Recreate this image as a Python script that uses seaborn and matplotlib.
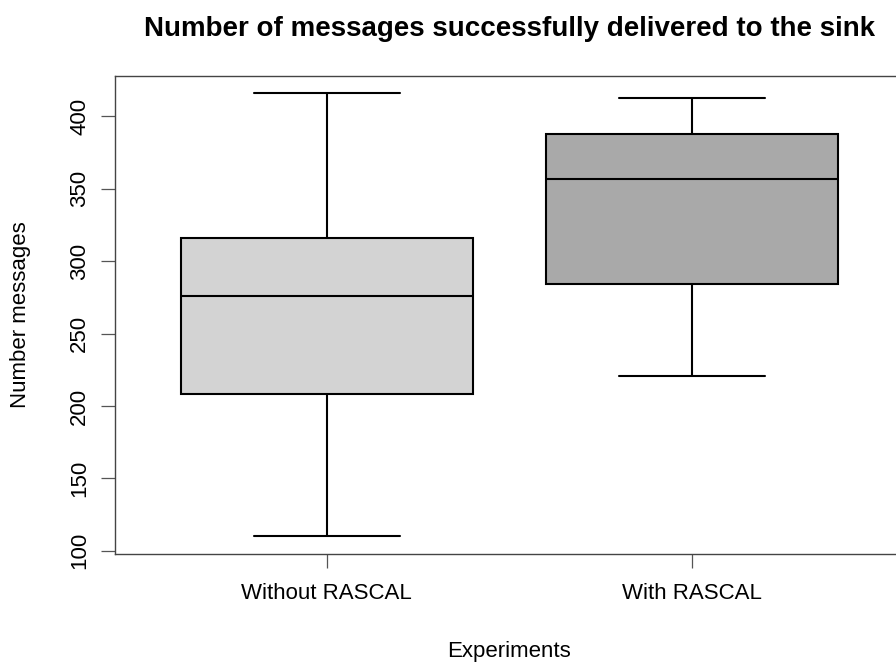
import matplotlib
matplotlib.use("Agg")
import matplotlib.pyplot as plt
import pandas as pd
import numpy as np
import seaborn as sns

sns.set_theme(style="white")
plt.rcParams["font.family"] = ["Liberation Sans", "DejaVu Sans"]
plt.rcParams["text.color"] = "black"
plt.rcParams["axes.labelcolor"] = "black"

# five-number summaries (min, Q1, median, Q3, max)
experiments = ["Without RASCAL", "With RASCAL"]
without_rascal = [110, 208, 276, 316, 416]
with_rascal = [221, 284, 357, 388, 413]
box_colors = ["#D3D3D3", "#A9A9A9"]
yticks = [100, 150, 200, 250, 300, 350, 400]

df = pd.DataFrame({
    "Experiments": [experiments[0]] * len(without_rascal) + [experiments[1]] * len(with_rascal),
    "Number messages": without_rascal + with_rascal,
})

fig = plt.figure(figsize=(8.96, 6.62), dpi=100)
# plot region runs past the right edge, like the cropped original
ax = fig.add_axes([115 / 896, 1 - 554 / 662, 788.4 / 896, 478.5 / 662])

line = dict(color="black", linewidth=1.5)
sns.boxplot(data=df, x="Experiments", y="Number messages", hue="Experiments",
            palette=box_colors, legend=False, width=0.8, whis=np.inf,
            linecolor="black", linewidth=1.5, ax=ax,
            boxprops=dict(edgecolor="black", linewidth=1.5),
            whiskerprops=line, capprops=line, medianprops=line)

ax.set_xlim(-0.58, 1.58)
ax.set_ylim(97.8, 428.3)
ax.set_yticks(yticks)
ax.set_yticklabels([str(v) for v in yticks], rotation=90, va="center")

for s in ax.spines.values():
    s.set_visible(True)
    s.set_color("#444444")
    s.set_linewidth(1.0)

ax.tick_params(axis="both", which="both", direction="out", length=10, width=0.9,
               color="#555555", labelsize=16, labelcolor="black")
ax.tick_params(axis="y", pad=8, left=True)
ax.tick_params(axis="x", pad=11, bottom=True)

ax.set_xlabel("Experiments", fontsize=16, color="black")
ax.xaxis.label.set_va("center")
ax.xaxis.set_label_coords(0.5, -0.203)
ax.set_ylabel("Number messages", fontsize=16, color="black")
ax.yaxis.label.set_va("center")
ax.yaxis.set_label_coords(-0.12, 0.5)

fig.text(510 / 896, 1 - 29 / 662, "Number of messages successfully delivered to the sink",
         ha="center", va="center", fontsize=20, fontweight="bold", color="black")

fig.savefig("out.png", dpi=100)
